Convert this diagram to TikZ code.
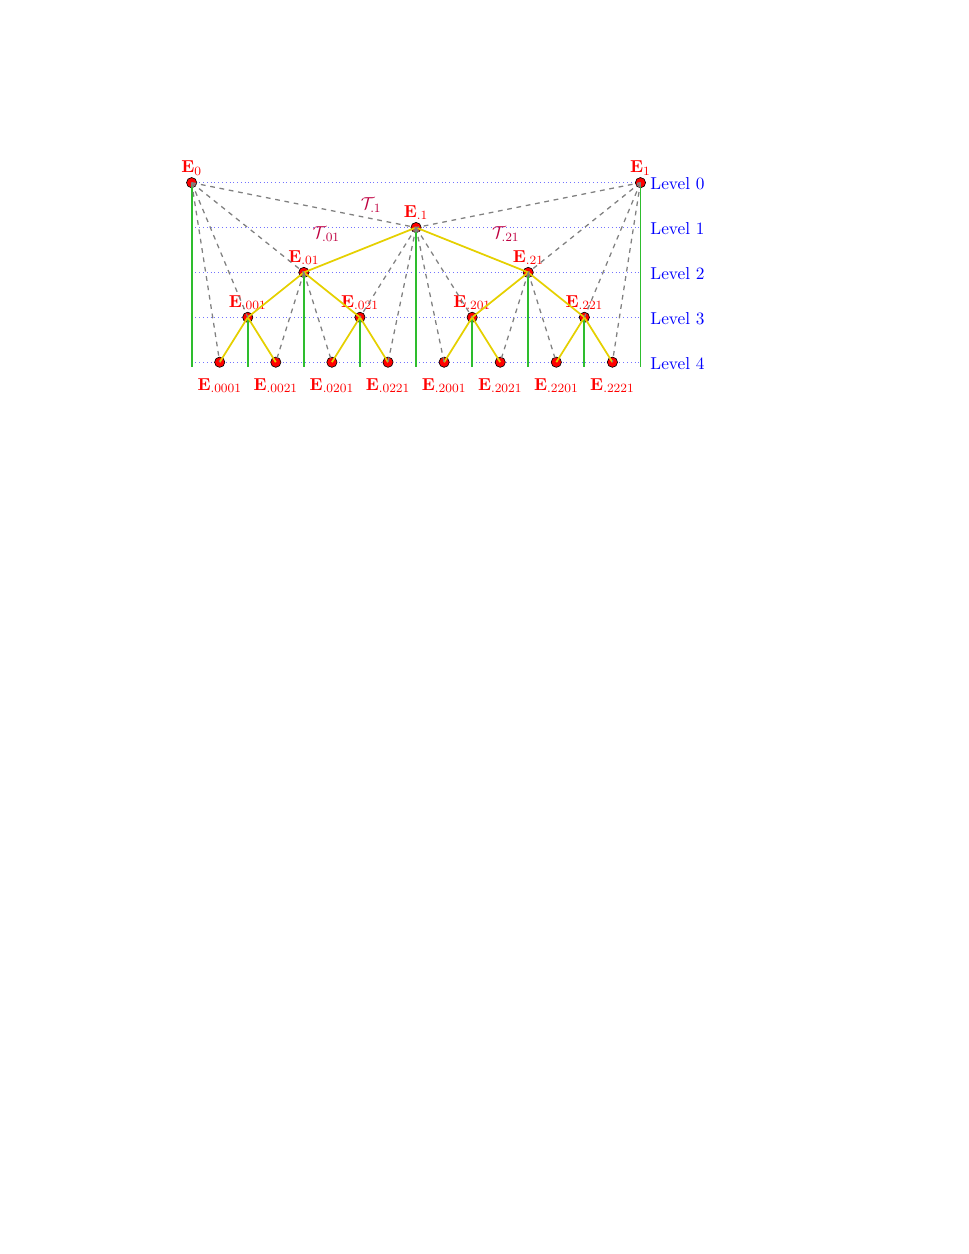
\documentclass[tikz,border=0pt,11pt]{standalone}
\usepackage[svgnames]{xcolor}
\usepackage{amsmath,amssymb}
\usetikzlibrary{positioning}

\begin{document}
\begin{tikzpicture}[x=1.25cm, y=1cm,
                    pt/.style={circle, draw=black, fill=red, inner sep=0pt, minimum size=6.5pt},
                    lab/.style={text=red, label distance=-2.5pt},
                    leaf/.style={text=red, label distance=3pt},
                    lvl/.style={text=blue, anchor=west},
                    tri/.style={text=purple},
                    guide/.style={blue!55, dotted},
                    stem/.style={LimeGreen!92!black, line width=1.1pt},
                    tree/.style={Gold!60!Yellow!90!black, line width=1.1pt},
                    link/.style={gray, dashed, thick}]
    \useasboundingbox (-4.27cm,-23.87cm) rectangle (17.32cm,4.07cm);

    % level guides
    \draw[guide] (0,0) -- (8,0);
    \draw[guide] (0,-1) -- (8,-1);
    \draw[guide] (0,-2) -- (8,-2);
    \draw[guide] (0,-3) -- (8,-3);
    \draw[guide] (0,-4) -- (8,-4);
    \coordinate (base) at (0,-4.1);

    % level 0 and 1
    \node[pt, label={[lab]above:$\mathbf{E}_0$}] (e0) at (0,0) {};
    \node[pt, label={[lab]above:$\mathbf{E}_1$}] (e1) at (8,0) {};
    \node[pt, label={[lab]above:$\mathbf{E}_{.1}$}] (d1) at (4,-1) {};

    % level 2 and 3
    \node[pt, label={[lab]above:$\mathbf{E}_{.01}$}] (d01) at (2,-2) {};
    \node[pt, label={[lab]above:$\mathbf{E}_{.21}$}] (d21) at (6,-2) {};
    \node[pt, label={[lab]above:$\mathbf{E}_{.001}$}] (d001) at (1,-3) {};
    \node[pt, label={[lab]above:$\mathbf{E}_{.021}$}] (d021) at (3,-3) {};
    \node[pt, label={[lab]above:$\mathbf{E}_{.201}$}] (d201) at (5,-3) {};
    \node[pt, label={[lab]above:$\mathbf{E}_{.221}$}] (d221) at (7,-3) {};

    % level 4
    \node[pt, label={[leaf]below:$\mathbf{E}_{.0001}$}] (l0001) at (0.5,-4) {};
    \node[pt, label={[leaf]below:$\mathbf{E}_{.0021}$}] (l0021) at (1.5,-4) {};
    \node[pt, label={[leaf]below:$\mathbf{E}_{.0201}$}] (l0201) at (2.5,-4) {};
    \node[pt, label={[leaf]below:$\mathbf{E}_{.0221}$}] (l0221) at (3.5,-4) {};
    \node[pt, label={[leaf]below:$\mathbf{E}_{.2001}$}] (l2001) at (4.5,-4) {};
    \node[pt, label={[leaf]below:$\mathbf{E}_{.2021}$}] (l2021) at (5.5,-4) {};
    \node[pt, label={[leaf]below:$\mathbf{E}_{.2201}$}] (l2201) at (6.5,-4) {};
    \node[pt, label={[leaf]below:$\mathbf{E}_{.2221}$}] (l2221) at (7.5,-4) {};

    % level names
    \node[lvl] (lv0) at (8.07,-0.03) {Level 0};
    \node[lvl] (lv1) at (8.07,-1.03) {Level 1};
    \node[lvl] (lv2) at (8.07,-2.03) {Level 2};
    \node[lvl] (lv3) at (8.07,-3.03) {Level 3};
    \node[lvl] (lv4) at (8.07,-4.03) {Level 4};

    % triangles
    \node[tri] (t1) at (3.2,-0.5) {$\mathcal{T}_{.1}$};
    \node[tri] (t01) at (2.4,-1.15) {$\mathcal{T}_{.01}$};
    \node[tri] (t21) at (5.6,-1.15) {$\mathcal{T}_{.21}$};

    % stems
    \draw[stem] (e0.center) -- (e0 |- base);
    \draw[stem] (d001.center) -- (d001 |- base);
    \draw[stem] (d01.center) -- (d01 |- base);
    \draw[stem] (d021.center) -- (d021 |- base);
    \draw[stem] (d1.center) -- (d1 |- base);
    \draw[stem] (d201.center) -- (d201 |- base);
    \draw[stem] (d21.center) -- (d21 |- base);
    \draw[stem] (d221.center) -- (d221 |- base);
    \draw[stem] (e1.center) -- (e1 |- base);

    % tree edges
    \draw[tree] (d01.center) -- (d1.center) -- (d21.center);
    \draw[tree] (d001.center) -- (d01.center) -- (d021.center);
    \draw[tree] (d201.center) -- (d21.center) -- (d221.center);
    \draw[tree] (l0001.center) -- (d001.center) -- (l0021.center);
    \draw[tree] (l0201.center) -- (d021.center) -- (l0221.center);
    \draw[tree] (l2001.center) -- (d201.center) -- (l2021.center);
    \draw[tree] (l2201.center) -- (d221.center) -- (l2221.center);

    % other edges
    \draw[link] (e0.center) -- (d1.center) -- (e1.center);
    \draw[link] (e0.center) -- (d01.center);
    \draw[link] (e1.center) -- (d21.center);
    \draw[link] (e0.center) -- (d001.center);
    \draw[link] (d1.center) -- (d021.center);
    \draw[link] (d1.center) -- (d201.center);
    \draw[link] (e1.center) -- (d221.center);
    \draw[link] (e0.center) -- (l0001.center);
    \draw[link] (d01.center) -- (l0021.center);
    \draw[link] (d01.center) -- (l0201.center);
    \draw[link] (d1.center) -- (l0221.center);
    \draw[link] (d1.center) -- (l2001.center);
    \draw[link] (d21.center) -- (l2021.center);
    \draw[link] (d21.center) -- (l2201.center);
    \draw[link] (e1.center) -- (l2221.center);
\end{tikzpicture}
\end{document}
